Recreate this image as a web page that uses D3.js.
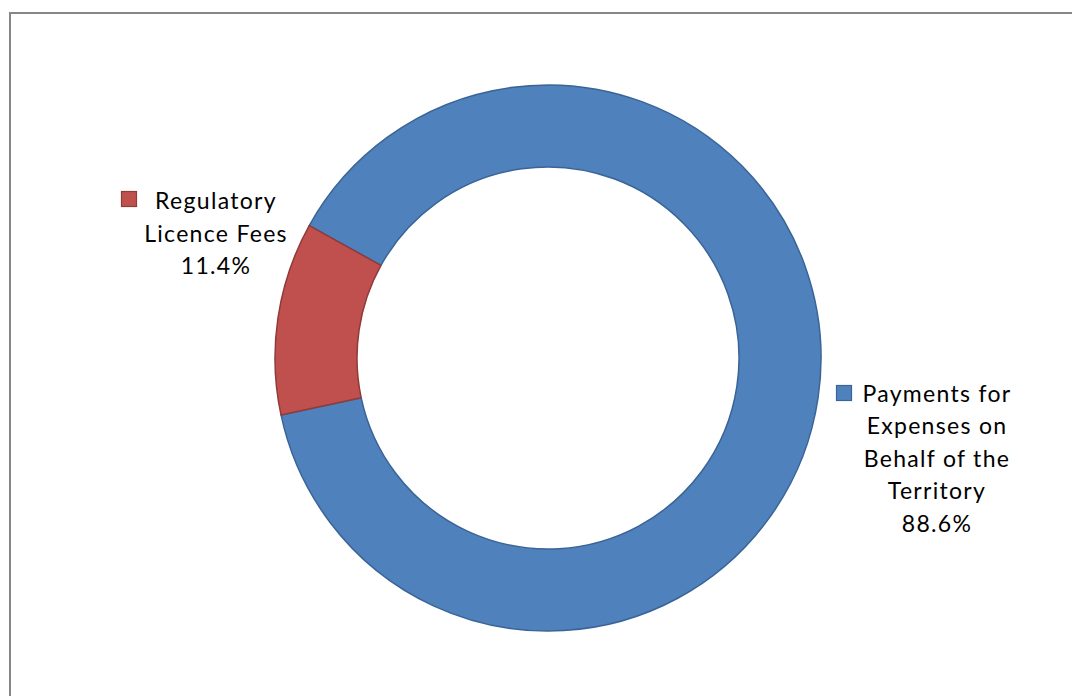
<!DOCTYPE html>
<html>
<head>
<meta charset="utf-8">
<script src="https://cdn.jsdelivr.net/npm/d3@7"></script>
<style>
  html, body { margin: 0; padding: 0; background: #fff; }
  svg { display: block; }
  text { font-family: Lato, "Open Sans", sans-serif; fill: #000; }
</style>
</head>
<body>
<svg id="chart" width="1072" height="696"></svg>
<script>
// Revenue composition
const categories = ["Payments for Expenses on Behalf of the Territory", "Regulatory Licence Fees"];
const shares = [88.6, 11.4];
const labelLines = [
  ["Payments for", "Expenses on", "Behalf of the", "Territory", "88.6%"],
  ["Regulatory", "Licence Fees", "11.4%"]
];
const fills = ["#4F81BD", "#C0504D"];
const strokes = ["#3A6496", "#8E3B39"];

const svg = d3.select("#chart");

// chart frame (open on the right and bottom edges of the view)
svg.append("rect")
  .attr("x", 10).attr("y", 13)
  .attr("width", 1200).attr("height", 900)
  .attr("fill", "none")
  .attr("stroke", "#878787")
  .attr("stroke-width", 2);

const cx = 548, cy = 358, outerR = 273, innerR = 191;
const start = 299 * Math.PI / 180;

const pie = d3.pie().sort(null).value(d => d)
  .startAngle(start).endAngle(start + 2 * Math.PI);
const arc = d3.arc().innerRadius(innerR).outerRadius(outerR);

const g = svg.append("g").attr("transform", `translate(${cx},${cy})`);
g.selectAll("path")
  .data(pie(shares))
  .join("path")
  .attr("d", arc)
  .attr("fill", (d, i) => fills[i])
  .attr("stroke", (d, i) => strokes[i])
  .attr("stroke-width", 1.5)
  .attr("stroke-linejoin", "round");

// legend-style labels with marker squares
const labelPos = [
  { x: 937, y: 401.5, mx: 836.5, my: 385.5 },
  { x: 216, y: 209, mx: 121.5, my: 191.5 }
];
const lineH = 32.5;

labelLines.forEach((lines, i) => {
  const p = labelPos[i];
  svg.append("rect")
    .attr("x", p.mx).attr("y", p.my)
    .attr("width", 15).attr("height", 15)
    .attr("fill", fills[i])
    .attr("stroke", strokes[i])
    .attr("stroke-width", 1.2);
  const t = svg.append("text")
    .attr("text-anchor", "middle")
    .attr("font-size", 23)
    .attr("letter-spacing", 1.3);
  lines.forEach((ln, j) => {
    t.append("tspan")
      .attr("x", p.x)
      .attr("y", p.y + j * lineH)
      .text(ln);
  });
});
</script>
</body>
</html>
